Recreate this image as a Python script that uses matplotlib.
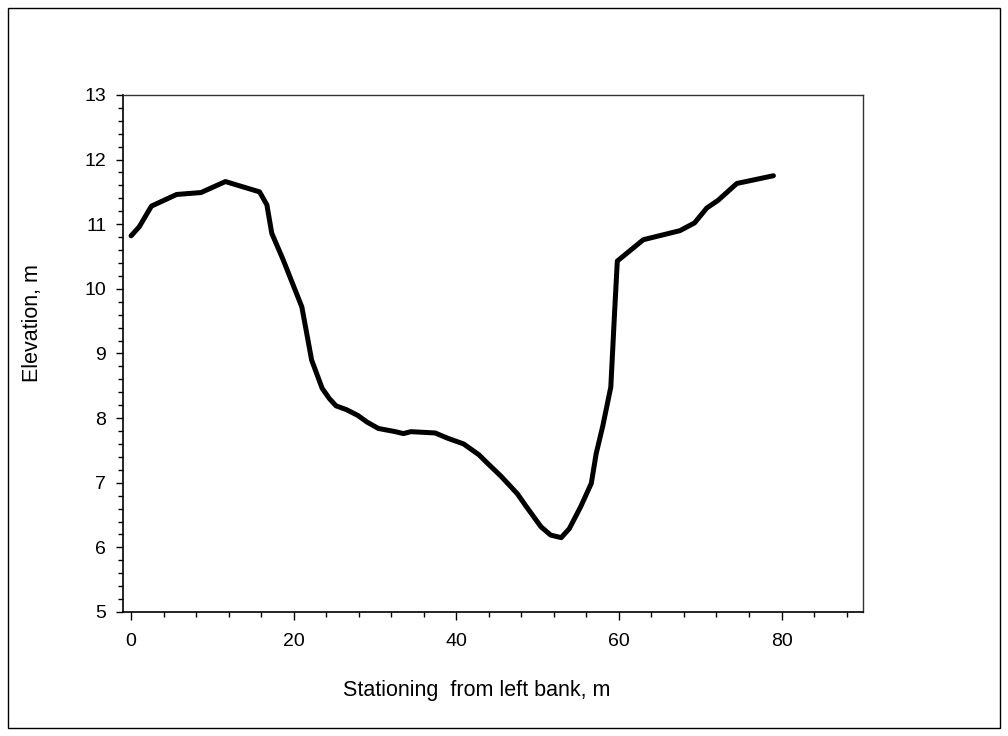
import matplotlib
matplotlib.use("Agg")
import matplotlib.pyplot as plt
from matplotlib.patches import Rectangle
from matplotlib.ticker import MultipleLocator

# --- cross-section survey (stationing from left bank, elevation) ---
station = [0.0, 1.0, 2.5, 5.6, 8.6, 11.6, 15.8, 16.7, 17.3, 18.7, 21.0,
           22.2, 23.5, 24.4, 25.2, 26.5, 27.9, 29.0, 30.4, 32.5, 33.5,
           34.4, 37.4, 38.9, 40.9, 42.8, 43.6, 45.5, 47.5, 48.5, 50.4,
           51.6, 52.9, 53.9, 55.3, 56.6, 57.2, 58.0, 59.0, 59.5, 59.8,
           63.0, 67.5, 69.3, 70.8, 72.2, 74.5, 79.0]
elevation = [10.82, 10.96, 11.28, 11.46, 11.49, 11.66, 11.50, 11.30, 10.86,
             10.45, 9.72, 8.90, 8.46, 8.30, 8.19, 8.13, 8.04, 7.94, 7.84,
             7.79, 7.76, 7.79, 7.77, 7.69, 7.60, 7.43, 7.33, 7.10, 6.83,
             6.65, 6.32, 6.19, 6.15, 6.29, 6.63, 6.99, 7.45, 7.87, 8.48,
             9.72, 10.43, 10.76, 10.90, 11.02, 11.25, 11.37, 11.63, 11.75]

plt.rcParams['font.family'] = ['Liberation Sans', 'DejaVu Sans']

fig = plt.figure(figsize=(10.08, 7.36), dpi=100)

# outer frame around the whole page
fig.patches.append(Rectangle((8 / 1008, 8 / 736), 992 / 1008, 720 / 736,
                             transform=fig.transFigure, fill=False,
                             edgecolor="black", linewidth=1.0))

ax = fig.add_axes([0.122, 0.1685, 0.734, 0.7025])
ax.plot(station, elevation, color="black", linewidth=3.6,
        solid_capstyle="round", solid_joinstyle="round")

ax.set_xlim(-1, 90)
ax.set_ylim(5, 13)
ax.xaxis.set_major_locator(MultipleLocator(20))
ax.xaxis.set_minor_locator(MultipleLocator(4))
ax.yaxis.set_major_locator(MultipleLocator(1))
ax.yaxis.set_minor_locator(MultipleLocator(0.2))
ax.tick_params(which="major", direction="out", width=1, labelsize=14)
ax.tick_params(which="minor", direction="out", length=3.6, width=1)
ax.tick_params(axis="x", which="major", length=6, pad=9)
ax.tick_params(axis="y", which="major", length=5, pad=7)
ax.tick_params(axis="x", which="both", top=False)
ax.tick_params(axis="y", which="both", right=False)

for side in ["left", "bottom"]:
    ax.spines[side].set_linewidth(1.2)
for side in ["top", "right"]:
    ax.spines[side].set_linewidth(1.0)
    ax.spines[side].set_color("#333333")

ax.set_xlabel("Stationing  from left bank, m", fontsize=15.5, labelpad=22)
ax.set_ylabel("Elevation, m", fontsize=15.5, labelpad=30)
# labels sit a little off the axis centre
ax.xaxis.label.set_x(0.478)
ax.yaxis.label.set_y(0.558)

fig.savefig("out.png", dpi=100)
